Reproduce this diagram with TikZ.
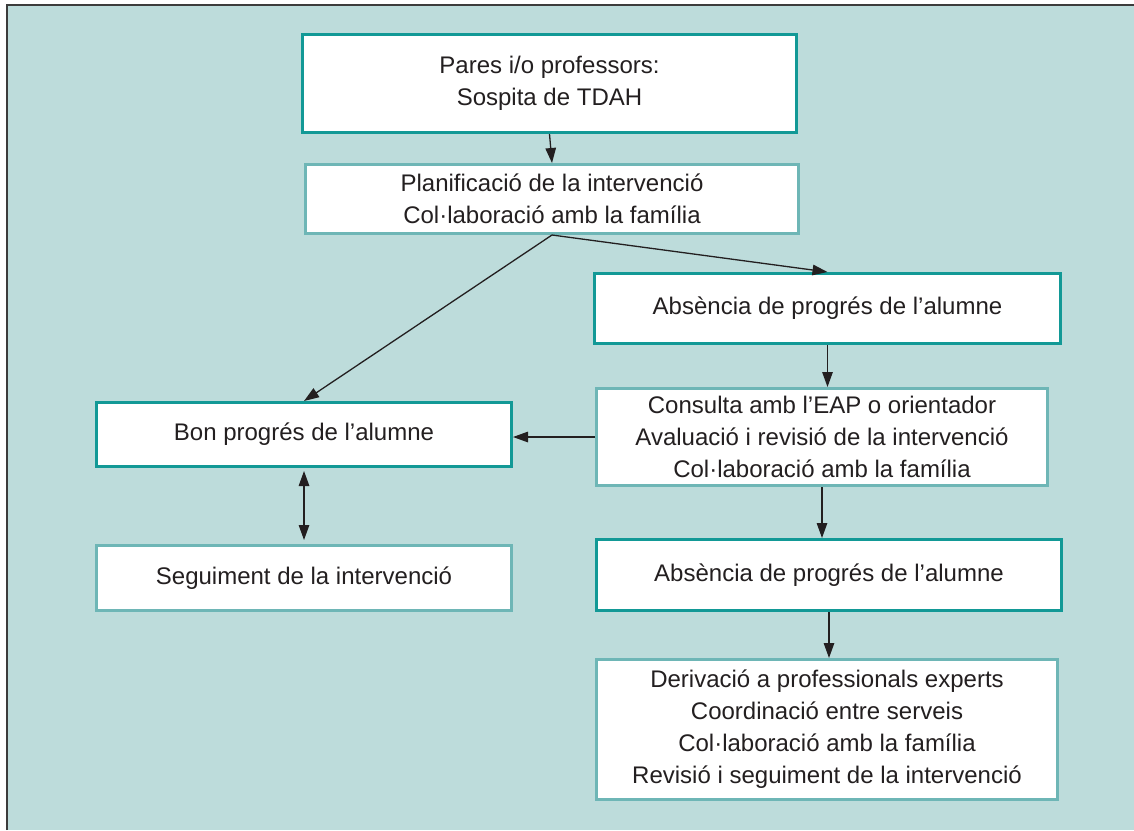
\documentclass[tikz,border=0pt]{standalone}
\usepackage{fontspec}
\setmainfont{Liberation Sans}
\usetikzlibrary{arrows.meta}
\definecolor{fons}{RGB}{189,220,219}
\definecolor{tealfosc}{RGB}{18,153,150}
\definecolor{tealclar}{RGB}{110,182,182}
\definecolor{marc}{RGB}{60,60,60}
\definecolor{lletra}{RGB}{35,31,32}
\tikzset{
  caixa/.style={draw, fill=white, line width=3pt, align=center, text=lletra,
    font=\fontsize{24}{32}\selectfont, inner sep=0pt},
  fosca/.style={caixa, draw=tealfosc},
  clara/.style={caixa, draw=tealclar},
  fletxa/.style={-{Triangle[length=15pt,width=10.5pt]}, line width=1.3pt, draw=lletra},
  fletxes/.style={{Triangle[length=15pt,width=10.5pt]}-{Triangle[length=15pt,width=10.5pt]},
    line width=1.3pt, draw=lletra, shorten <=3pt, shorten >=4pt}
}
\begin{document}
\begin{tikzpicture}[x=1pt,y=-1pt]
\useasboundingbox (0,0) rectangle (1134,830);
\fill[fons] (7,5) rectangle (1134,830);
\draw[marc, line width=1.5pt] (7,830) -- (7,5) -- (1134,5);

\node[fosca, minimum width=494pt, minimum height=98pt] (sospita) at (549.5,83.5) {Pares i/o professors:\\Sospita de TDAH};
\node[clara, minimum width=493pt, minimum height=69pt] (planif) at (552,199) {Planificació de la intervenció\\Col·laboració amb la família};
\node[fosca, minimum width=466pt, minimum height=70pt] (absencia) at (827.5,308.5) {Absència de progrés de l’alumne};
\node[clara, minimum width=451pt, minimum height=97pt] (consulta) at (822,437) {Consulta amb l’EAP o orientador\\Avaluació i revisió de la intervenció\\Col·laboració amb la família};
\node[fosca, minimum width=415pt, minimum height=64pt] (bon) at (304,434.5) {Bon progrés de l’alumne};
\node[clara, minimum width=415pt, minimum height=65pt] (seguiment) at (304,578) {Seguiment de la intervenció};
\node[fosca, minimum width=465pt, minimum height=71pt] (absencia2) at (829,575) {Absència de progrés de l’alumne};
\node[clara, minimum width=461pt, minimum height=140pt] (derivacio) at (827,729.5) {Derivació a professionals experts\\Coordinació entre serveis\\Col·laboració amb la família\\Revisió i seguiment de la intervenció};

\draw[fletxa] (sospita.south) -- (planif.north);
\draw[fletxa] (planif.south) -- (bon.north);
\draw[fletxa] (planif.south) -- (absencia.north);
\draw[fletxa] (absencia.south) -- (absencia.south |- consulta.north);
\draw[fletxa] (consulta.west) -- (consulta.west -| bon.east);
\draw[fletxes] (bon.south) -- (seguiment.north);
\draw[fletxa] (consulta.south) -- (consulta.south |- absencia2.north);
\draw[fletxa] (absencia2.south) -- (absencia2.south |- derivacio.north);
\end{tikzpicture}
\end{document}
